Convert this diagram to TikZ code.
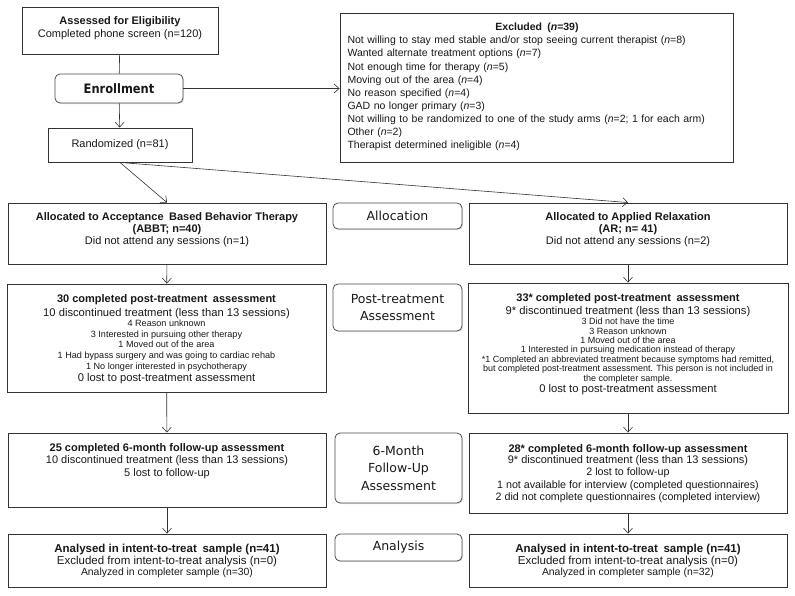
\documentclass[tikz,border=0pt]{standalone}
\usepackage{fontspec}
\setmainfont{Liberation Sans}
\newfontfamily\lab{DejaVu Sans}
\newfontfamily\labn[FakeStretch=0.88]{DejaVu Sans}
\usetikzlibrary{arrows.meta,shadows}
\newcommand\fs[1]{\fontsize{#1}{#1}\selectfont}
\newcommand\nodefont[1]{\fontsize{11}{#1}\selectfont\lineskiplimit=-30pt\lineskip=0pt}
\begin{document}
\begin{tikzpicture}[x=1pt,y=-1pt,
  box/.style={draw=black!80, line width=0.9pt, rectangle, inner sep=0pt, fill=white},
  txt/.style={align=center, inner sep=0pt, text=black!90},
  lbl/.style={draw=black!70, line width=0.8pt, rounded corners=5pt, align=center, inner sep=0pt, fill=white,
     text=black!90, drop shadow={shadow xshift=1pt,shadow yshift=-1pt,opacity=0.25}},
  arr/.style={-{Straight Barb[length=5pt,width=9pt]}, line width=0.6pt, draw=black!80},
  ln/.style={line width=0.6pt, draw=black!80}]
\useasboundingbox (0,0) rectangle (795,595);
% ---------- top ----------
\node[box, minimum width=196, minimum height=47] (assess) at (120,30.5) {};
\node[txt, font=\nodefont{13}] (assessT) at (120,28.5)
  {\bfseries Assessed for Eligibility\\Completed phone screen (n=120)};
\node[lbl, minimum width=128, minimum height=29, font=\labn\bfseries\fontsize{13}{16}\selectfont] (enroll) at (119,88.5) {Enrollment};
\node[box, minimum width=144, minimum height=34] (rand) at (120,145) {};
\node[txt, font=\fs{11}] (randT) at (120,144.5) {Randomized (n=81)};
\node[box, minimum width=393, minimum height=149] (excl) at (536.5,87.5) {};
\node[txt, text width=379, align=left, font={\fontsize{10.5}{13.1}\selectfont}] (exclT) at (537,87)
  {\makebox[379pt][c]{\bfseries Excluded\enspace(\textit{n}=39)}\\
   Not willing to stay med stable and/or stop seeing current therapist (\textit{n}=8)\\
   Wanted alternate treatment options (\textit{n}=7)\\
   Not enough time for therapy (\textit{n}=5)\\
   Moving out of the area (\textit{n}=4)\\
   No reason specified (\textit{n}=4)\\
   GAD no longer primary (\textit{n}=3)\\
   Not willing to be randomized to one of the study arms (\textit{n}=2; 1 for each arm)\\
   Other (\textit{n}=2)\\
   Therapist determined ineligible (\textit{n}=4)};
% ---------- allocation ----------
\node[box, minimum width=318, minimum height=61] (abbtA) at (167,233.5) {};
\node[txt, font=\nodefont{12}] (abbtAT) at (167,230)
  {\bfseries Allocated to Acceptance\enspace Based Behavior Therapy\\
   \bfseries (ABBT; n=40)\\
   Did not attend any sessions (n=1)};
\node[lbl, minimum width=129, minimum height=26, font=\lab\fontsize{12.5}{17}\selectfont] (allocL) at (397.5,216) {Allocation};
\node[box, minimum width=318, minimum height=61] (arA) at (628,233.5) {};
\node[txt, font=\nodefont{12}] (arAT) at (628,230)
  {\bfseries Allocated to Applied Relaxation\\
   \bfseries (AR; n= 41)\\
   Did not attend any sessions (n=2)};
% ---------- post-treatment ----------
\node[box, minimum width=319, minimum height=108] (abbtP) at (166.5,338) {};
\node[txt, font=\nodefont{10.7}] (abbtPT) at (166.5,339.5)
  {\bfseries 30 completed post-treatment\enspace assessment\\[2.9pt]
   \fs{11.2}10 discontinued treatment (less than 13 sessions)\\[-0.6pt]
   \fs{9.1}4 Reason unknown\\
   \fs{9.1}3 Interested in pursuing other therapy\\
   \fs{9.1}1 Moved out of the area\\
   \fs{9.1}1 Had bypass surgery and was going to cardiac rehab\\
   \fs{9.1}1 No longer interested in psychotherapy\\[1.9pt]
   \fs{11.2}0 lost to post-treatment assessment};
\node[lbl, minimum width=129, minimum height=47, font=\lab\fontsize{12.5}{17}\selectfont] (postL) at (397.5,307.5) {Post-treatment\\Assessment};
\node[box, minimum width=320, minimum height=130] (arP) at (628,348) {};
\node[txt, font=\nodefont{9.4}] (arPT) at (628,344.5)
  {\bfseries 33* completed post-treatment\enspace assessment\\[3.4pt]
   \fs{11.2}9* discontinued treatment (less than 13 sessions)\\[0.6pt]
   \fs{9}3 Did not have the time\\
   \fs{9}3 Reason unknown\\
   \fs{9}1 Moved out of the area\\
   \fs{9}1 Interested in pursuing medication instead of therapy\\
   \fs{9}*1 Completed an abbreviated treatment because symptoms had remitted,\\
   \fs{9}but completed post-treatment assessment. This person is not included in\\
   \fs{9}the completer sample.\\[2.4pt]
   \fs{11.2}0 lost to post-treatment assessment};
% ---------- follow-up ----------
\node[box, minimum width=318, minimum height=74] (abbtF) at (167,470) {};
\node[txt, font=\nodefont{12.5}] (abbtFT) at (167,461)
  {\bfseries 25 completed 6-month follow-up assessment\\
   10 discontinued treatment (less than 13 sessions)\\
   5 lost to follow-up};
\node[lbl, minimum width=127, minimum height=70, font=\lab\fontsize{12.5}{17.5}\selectfont] (fuL) at (398.5,468) {6-Month\\Follow-Up\\Assessment};
\node[box, minimum width=318, minimum height=80] (arF) at (628,473) {};
\node[txt, font=\nodefont{12.4}] (arFT) at (628,473.5)
  {\bfseries 28* completed 6-month follow-up assessment\\[-1pt]
   9* discontinued treatment (less than 13 sessions)\\
   \fs{10.7}2 lost to follow-up\\
   \fs{10.7}1 not available for interview (completed questionnaires)\\
   \fs{10.7}2 did not complete questionnaires (completed interview)};
% ---------- analysis ----------
\node[box, minimum width=318, minimum height=53] (abbtN) at (167,560.5) {};
\node[txt, font=\nodefont{11.8}] (abbtNT) at (167,561)
  {\fs{11.5}\bfseries Analysed in intent-to-treat\enspace sample (n=41)\\
   \fs{11.5}Excluded from intent-to-treat analysis (n=0)\\
   \fs{10.4}Analyzed in completer sample (n=30)};
\node[lbl, minimum width=127, minimum height=27, font=\lab\fontsize{12.5}{17}\selectfont] (anL) at (398.5,547.5) {Analysis};
\node[box, minimum width=318, minimum height=53] (arN) at (628,560.5) {};
\node[txt, font=\nodefont{11.8}] (arNT) at (628,561)
  {\fs{11.5}\bfseries Analysed in intent-to-treat\enspace sample (n=41)\\
   \fs{11.5}Excluded from intent-to-treat analysis (n=0)\\
   \fs{10.4}Analyzed in completer sample (n=32)};
% ---------- connectors ----------
\draw[ln] (assess) -- (enroll);
\draw[arr] (enroll) -- (rand);
\draw[arr] (enroll.east) -- (enroll.east -| excl.west);
\draw[arr] (rand.south) -- (abbtA.north);
\draw[arr] (rand.south) -- (arA.north);
\draw[arr] (abbtA) -- (abbtP);
\draw[arr] (abbtP) -- (abbtF);
\draw[arr] (abbtF) -- (abbtN);
\draw[arr] (arA) -- (arP);
\draw[arr] (arP) -- (arF);
\draw[arr] (arF) -- (arN);
\end{tikzpicture}
\end{document}
